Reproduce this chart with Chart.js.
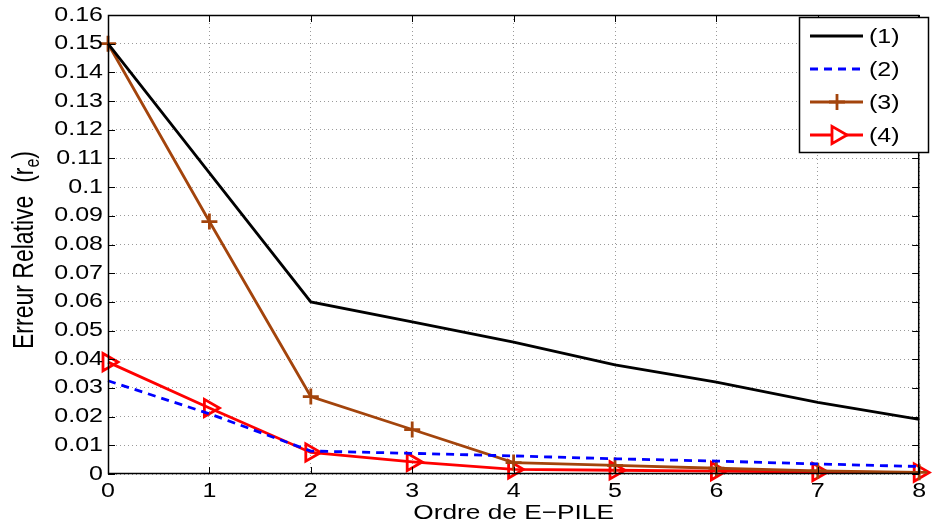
<!DOCTYPE html>
<html>
<head>
<meta charset="utf-8">
<script src="https://cdn.jsdelivr.net/npm/chart.js@4.4.0/dist/chart.umd.min.js"></script>
<style>
  html, body { margin: 0; padding: 0; background: #fff; }
  #wrap { width: 932px; height: 525px; }
</style>
</head>
<body>
<div id="wrap"><canvas id="myChart" width="932" height="525"></canvas></div>
<script>
// Ordre de E-PILE
var ordres = ['0', '1', '2', '3', '4', '5', '6', '7', '8'];
// erreur relative pour chaque courbe
var serie1 = [0.150, 0.105, 0.060, 0.053, 0.046, 0.038, 0.032, 0.025, 0.019];
var serie2 = [0.0325, 0.021, 0.008, 0.0072, 0.0063, 0.0053, 0.0045, 0.0035, 0.0026];
var serie3 = [0.150, 0.088, 0.027, 0.0155, 0.0040, 0.0030, 0.0020, 0.0011, 0.0006];
var serie4 = [0.039, 0.023, 0.0075, 0.0042, 0.0016, 0.0013, 0.0010, 0.0007, 0.0005];
var legendes = ['(1)', '(2)', '(3)', '(4)'];
var titreX = 'Ordre de E\u2212PILE';
var titreY = 'Erreur Relative  (r';

var police = '"Liberation Sans", Arial, Helvetica, sans-serif';
// le texte de la figure d'origine est etire en largeur
var etire = 1.25;

function texte(ctx, txt, x, y, align, size) {
    ctx.save();
    ctx.translate(x, y);
    ctx.scale(etire, 1);
    ctx.font = size + 'px ' + police;
    ctx.textAlign = align;
    ctx.fillText(txt, 0, 0);
    ctx.restore();
}

// cadre, graduations, textes et legende (style matlab)
var cadrePlugin = {
    id: 'cadre',
    afterDraw: function(chart) {
        let ctx = chart.ctx;
        let a = chart.chartArea;
        let xs = chart.scales.x;
        let ys = chart.scales.y;
        ctx.save();
        ctx.strokeStyle = '#000';
        ctx.lineWidth = 1;
        ctx.beginPath();
        for (let i = 0; i < xs.ticks.length; i++) {
            let px = Math.round(xs.getPixelForTick(i)) + 0.5;
            ctx.moveTo(px, a.bottom); ctx.lineTo(px, a.bottom - 7);
            ctx.moveTo(px, a.top); ctx.lineTo(px, a.top + 7);
        }
        for (let i = 0; i < ys.ticks.length; i++) {
            let py = Math.round(ys.getPixelForTick(i)) + 0.5;
            ctx.moveTo(a.left, py); ctx.lineTo(a.left + 7, py);
            ctx.moveTo(a.right, py); ctx.lineTo(a.right - 7, py);
        }
        ctx.stroke();
        ctx.lineWidth = 1.5;
        ctx.strokeRect(a.left + 0.5, a.top + 0.5, a.right - a.left - 1, a.bottom - a.top - 1);

        // etiquettes des axes
        ctx.fillStyle = '#000';
        ctx.textBaseline = 'middle';
        for (let i = 0; i < xs.ticks.length; i++) {
            texte(ctx, ordres[i], xs.getPixelForTick(i), a.bottom + 17, 'center', 20);
        }
        for (let i = 0; i < ys.ticks.length; i++) {
            let v = ys.ticks[i].value;
            let lab = parseFloat(v.toFixed(2)).toString();
            texte(ctx, lab, a.left - 5, ys.getPixelForTick(i), 'right', 20);
        }
        ctx.textBaseline = 'alphabetic';
        texte(ctx, titreX, (a.left + a.right) / 2, 519, 'center', 21);

        // titre vertical avec indice
        ctx.save();
        ctx.translate(33, 250);
        ctx.transform(etire, 0, 0, 1, 0, 0);
        ctx.rotate(-Math.PI / 2);
        ctx.font = '23px ' + police;
        let w1 = ctx.measureText(titreY).width;
        ctx.font = '16px ' + police;
        let w2 = ctx.measureText('e').width;
        ctx.font = '23px ' + police;
        let w3 = ctx.measureText(')').width;
        let x0 = -(w1 + w2 + w3) / 2;
        ctx.textAlign = 'left';
        ctx.fillText(titreY, x0, 0);
        ctx.font = '16px ' + police;
        ctx.fillText('e', x0 + w1, 5);
        ctx.font = '23px ' + police;
        ctx.fillText(')', x0 + w1 + w2, 0);
        ctx.restore();

        // legende
        let lx = 799, ly = 17, lw = 129, lh = 135;
        ctx.fillStyle = '#fff';
        ctx.fillRect(lx, ly, lw, lh);
        ctx.strokeStyle = '#000';
        ctx.lineWidth = 1.5;
        ctx.strokeRect(lx + 0.5, ly + 0.5, lw, lh);
        chart.data.datasets.forEach(function(ds, i) {
            let y = ly + 19 + i * 33;
            ctx.save();
            ctx.strokeStyle = ds.borderColor;
            ctx.lineWidth = ds.borderWidth;
            ctx.setLineDash(ds.borderDash || []);
            ctx.beginPath();
            ctx.moveTo(lx + 11, y); ctx.lineTo(lx + 64, y);
            ctx.stroke();
            ctx.restore();
            if (ds.pointRadius > 0) {
                ctx.save();
                ctx.fillStyle = '#fff';
                ctx.strokeStyle = ds.borderColor;
                ctx.lineWidth = ds.pointBorderWidth;
                Chart.helpers.drawPoint(ctx, {
                    pointStyle: ds.pointStyle,
                    rotation: ds.pointRotation || 0,
                    radius: ds.pointRadius,
                    borderWidth: ds.pointBorderWidth
                }, lx + 38, y);
                ctx.restore();
            }
            ctx.fillStyle = '#000';
            ctx.textBaseline = 'middle';
            texte(ctx, legendes[i], lx + 70, y + 1, 'left', 20);
        });
        ctx.restore();
    }
};

var ctx = document.getElementById('myChart');
var myChart = new Chart(ctx, {
    type: 'line',
    data: {
        labels: ordres,
        datasets: [{
            label: legendes[0],
            data: serie1,
            borderColor: '#000000',
            borderWidth: 2.8,
            pointRadius: 0,
            clip: false
        }, {
            label: legendes[1],
            data: serie2,
            borderColor: '#0000FF',
            borderWidth: 2.8,
            borderDash: [8, 6],
            pointRadius: 0,
            clip: false
        }, {
            label: legendes[2],
            data: serie3,
            borderColor: '#A3440C',
            borderWidth: 2.8,
            pointStyle: 'cross',
            pointRadius: 8,
            pointBorderWidth: 2.8,
            pointBorderColor: '#A3440C',
            clip: false
        }, {
            label: legendes[3],
            data: serie4,
            borderColor: '#FF0000',
            borderWidth: 2.8,
            pointStyle: 'triangle',
            pointRotation: 90,
            pointRadius: 10,
            pointBorderWidth: 2.8,
            pointBorderColor: '#FF0000',
            pointBackgroundColor: 'rgba(255,255,255,0)',
            clip: false
        }]
    },
    options: {
        responsive: false,
        animation: false,
        layout: {
            padding: { top: 15, right: 4, left: 0, bottom: 0 }
        },
        elements: {
            line: { tension: 0, fill: false }
        },
        plugins: {
            legend: { display: false },
            tooltip: { enabled: false }
        },
        scales: {
            x: {
                offset: false,
                grid: { color: '#9a9a9a', lineWidth: 1, drawTicks: false },
                border: { display: false, dash: [1, 3] },
                ticks: { display: false },
                afterFit: function(scale) {
                    scale.height = 51;
                    scale.paddingLeft = 0;
                    scale.paddingRight = 0;
                }
            },
            y: {
                min: 0,
                max: 0.16,
                grid: { color: '#9a9a9a', lineWidth: 1, drawTicks: false },
                border: { display: false, dash: [1, 3] },
                ticks: { display: false, stepSize: 0.01 },
                afterFit: function(scale) {
                    scale.width = 108;
                    scale.paddingTop = 0;
                    scale.paddingBottom = 0;
                }
            }
        }
    },
    plugins: [cadrePlugin]
});
</script>
</body>
</html>
